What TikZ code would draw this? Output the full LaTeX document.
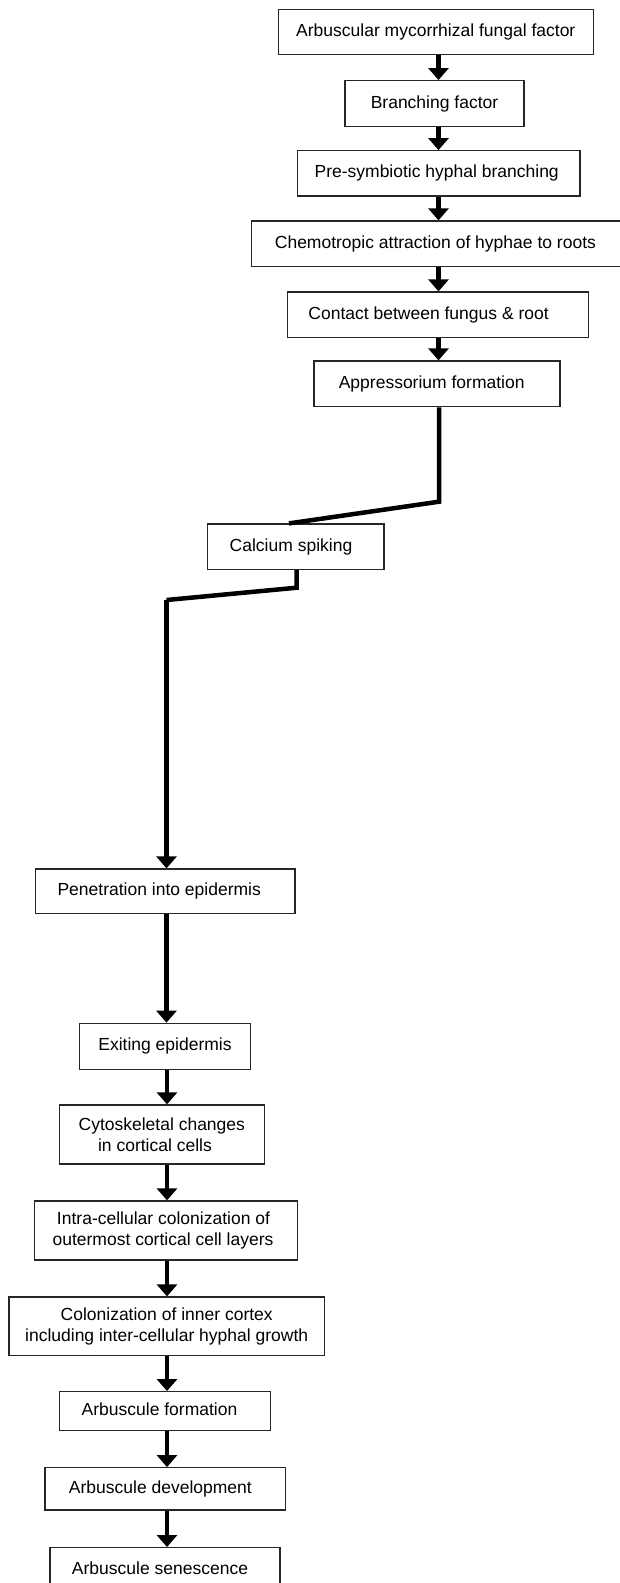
\documentclass[tikz,border=0pt]{standalone}
\usepackage{fontspec}
\setmainfont{Liberation Sans}
\usetikzlibrary{arrows.meta}
\begin{document}
\begin{tikzpicture}[x=1pt,y=-1pt,
  boxbase/.style={draw=black!85, line width=1.3pt, inner sep=0pt, fill=white,
    font=\fontsize{17.5}{20.5}\selectfont},
  box/.style={boxbase, text height=12.5pt, text depth=3.5pt},
  mbox/.style={boxbase, align=center},
  conn/.style={line width=4.5pt, black, line join=miter},
  arr/.style={conn, -{Triangle[width=20pt,length=12pt]}}]
\clip (0,0) rectangle (620,1583);
\fill[white] (0,0) rectangle (620,1583);

% columns for connectors
\coordinate (cA) at (438.5,0);
\coordinate (cB) at (439,0);
\coordinate (cC) at (289,0);
\coordinate (cD) at (296.7,0);
\coordinate (cE) at (166.5,0);
\coordinate (cF) at (167,0);
\coordinate (k1) at (439,501.7);
\coordinate (k2) at (296.7,587.7);
\coordinate (k3) at (166.5,600);

% boxes
\node[box, minimum width=315pt, minimum height=45pt] (b1) at (435.8,31.8) {Arbuscular mycorrhizal fungal factor};
\node[box, minimum width=179pt, minimum height=46pt] (b2) at (434.5,103.7) {Branching factor};
\node[box, minimum width=282.7pt, minimum height=45.3pt] (b3) at (438.7,173.4) {\hspace*{-2pt}Pre-symbiotic hyphal branching\hspace*{2pt}};
\node[box, minimum width=370.3pt, minimum height=45.7pt] (b4) at (436.9,243.9) {\hspace*{-1.5pt}Chemotropic attraction of hyphae to roots\hspace*{1.5pt}};
\node[box, minimum width=300.6pt, minimum height=45.3pt] (b5) at (438,314.7) {\hspace*{-9.4pt}Contact between fungus \& root\hspace*{9.4pt}};
\node[box, minimum width=246pt, minimum height=45.7pt] (b6) at (437,383.9) {\hspace*{-5.3pt}Appressorium formation\hspace*{5.3pt}};
\node[box, minimum width=176.3pt, minimum height=45.3pt] (b7) at (295.9,546.7) {\hspace*{-4.9pt}Calcium spiking\hspace*{4.9pt}};
\node[box, minimum width=259.3pt, minimum height=44.3pt] (b8) at (165.4,891.2) {\hspace*{-6.2pt}Penetration into epidermis\hspace*{6.2pt}};
\node[box, minimum width=171.4pt, minimum height=46pt] (b9) at (165,1046.3) {Exiting epidermis};
\node[mbox, minimum width=205pt, minimum height=59pt] (b10) at (161.8,1134.5) {Cytoskeletal changes\\in cortical cells\hspace*{13.6pt}};
\node[mbox, minimum width=263.4pt, minimum height=59pt] (b11) at (166,1230.5) {Intra-cellular colonization of\hspace*{5pt}\\outermost cortical cell layers\hspace*{6pt}};
\node[mbox, minimum width=315.3pt, minimum height=58.7pt] (b12) at (166.7,1326.4) {Colonization of inner cortex\\including inter-cellular hyphal growth};
\node[box, minimum width=211.4pt, minimum height=38.6pt] (b13) at (165,1411) {\hspace*{-5.5pt}Arbuscule formation\hspace*{5.5pt}};
\node[box, minimum width=240.7pt, minimum height=42.3pt] (b14) at (165.4,1488.9) {\hspace*{-5pt}Arbuscule development\hspace*{5pt}};
\node[box, minimum width=230pt, minimum height=45pt] (b15) at (165,1570.2) {\hspace*{-5pt}Arbuscule senescence\hspace*{5pt}};

% connectors
\draw[arr] (b1.south -| cA) -- (b2.north -| cA);
\draw[arr] (b2.south -| cA) -- (b3.north -| cA);
\draw[arr] (b3.south -| cA) -- (b4.north -| cA);
\draw[arr] (b4.south -| cA) -- (b5.north -| cA);
\draw[arr] (b5.south -| cA) -- (b6.north -| cA);
\draw[conn] (b6.south -| cB) -- (k1) -- (b7.north -| cC);
\draw[conn] (b7.south -| cD) -- (k2) -- (k3);
\draw[arr] (k3) -- (b8.north -| cE);
\draw[arr] (b8.south -| cE) -- (b9.north -| cE);
\draw[arr] (b9.south -| cF) -- (b10.north -| cF);
\draw[arr] (b10.south -| cF) -- (b11.north -| cF);
\draw[arr] (b11.south -| cF) -- (b12.north -| cF);
\draw[arr] (b12.south -| cF) -- (b13.north -| cF);
\draw[arr] (b13.south -| cF) -- (b14.north -| cF);
\draw[arr] (b14.south -| cF) -- (b15.north -| cF);
\end{tikzpicture}
\end{document}
